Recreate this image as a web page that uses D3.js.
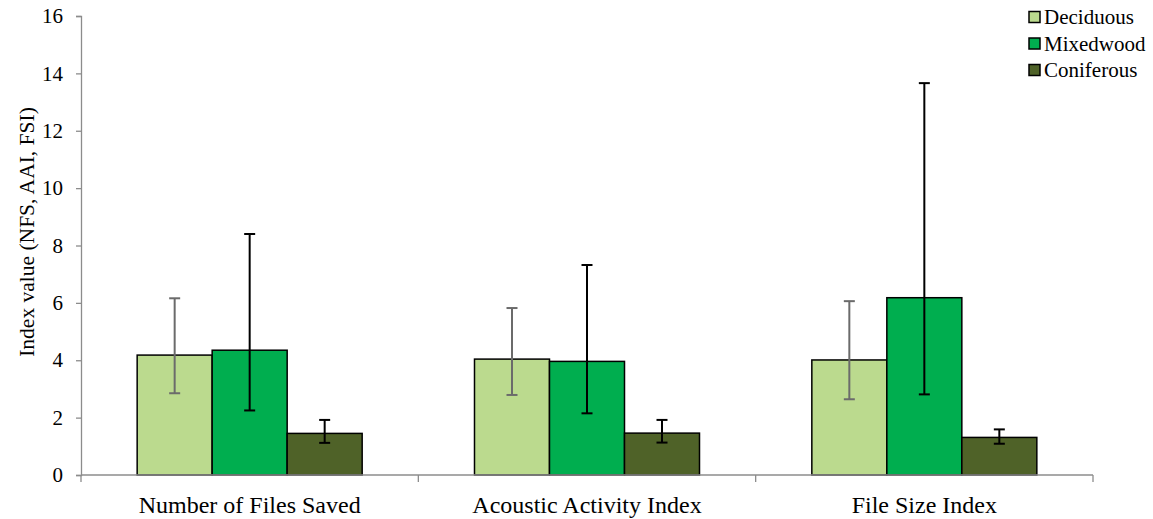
<!DOCTYPE html>
<html>
<head>
<meta charset="utf-8">
<script src="https://cdn.jsdelivr.net/npm/d3@7"></script>
<style>
  body { margin: 0; background: #fff; }
</style>
</head>
<body>
<script>
(function(){

  var categories = ['Number of Files Saved', 'Acoustic Activity Index', 'File Size Index']
  var forestTypes = ['Deciduous', 'Mixedwood', 'Coniferous']
  var yTicks = [0, 2, 4, 6, 8, 10, 12, 14, 16]

  // mean, upper and lower error bar ends, per forest type (order = categories)
  var deciduous = [4.18, 4.04, 4.01]
  var deciduousHi = [6.16, 5.82, 6.06]
  var deciduousLo = [2.85, 2.79, 2.64]
  var mixedwood = [4.35, 3.96, 6.18]
  var mixedwoodHi = [8.40, 7.32, 13.66]
  var mixedwoodLo = [2.25, 2.15, 2.81]
  var coniferous = [1.45, 1.46, 1.31]
  var coniferousHi = [1.92, 1.92, 1.59]
  var coniferousLo = [1.12, 1.13, 1.09]

  var fills = { Deciduous: '#bbda8e', Mixedwood: '#00ae4f', Coniferous: '#4f6228' }
  var errColor = { Deciduous: '#6b6b6b', Mixedwood: '#000', Coniferous: '#000' }
  var serif = 'Liberation Serif'

  var series = {
    Deciduous: [deciduous, deciduousHi, deciduousLo],
    Mixedwood: [mixedwood, mixedwoodHi, mixedwoodLo],
    Coniferous: [coniferous, coniferousHi, coniferousLo]
  }

  var rows = []
  categories.forEach(function(c, i){
    forestTypes.forEach(function(t){
      rows.push({ cat: c, type: t, v: series[t][0][i], hi: series[t][1][i], lo: series[t][2][i] })
    })
  })

  var margin = { top: 16, right: 60, bottom: 44, left: 81 }
  var width = 1153 - margin.left - margin.right,
      height = 519 - margin.top - margin.bottom;

  var svg = d3.select('body').append('svg')
      .attr('width', 1153)
      .attr('height', 519)
      .attr('font-family', serif)

  var g = svg.append('g')
      .attr('transform', 'translate(' + margin.left + ',' + margin.top + ')')

  var x0 = d3.scaleBand().domain(categories).range([0, width]).paddingInner(0.333).paddingOuter(0.1665)
  var x1 = d3.scaleBand().domain(forestTypes).range([0, x0.bandwidth()])
  var y = d3.scaleLinear().domain([0, 16]).range([height, 0])

  // y axis
  var yAxis = g.append('g')
      .call(d3.axisLeft(y).tickValues(yTicks).tickSize(5).tickPadding(13))
      .attr('font-family', serif)
      .attr('font-size', 21)
  yAxis.select('.domain').attr('stroke', '#8c8c8c').attr('stroke-width', 1.3)
  yAxis.selectAll('.tick line').attr('stroke', '#8c8c8c').attr('stroke-width', 1.3)
  yAxis.selectAll('.tick text').attr('fill', '#000').attr('font-family', serif)

  // bars
  g.selectAll('.bar').data(rows).enter().append('rect')
      .attr('class', 'bar')
      .attr('x', function(d){ return x0(d.cat) + x1(d.type) })
      .attr('y', function(d){ return y(d.v) })
      .attr('width', x1.bandwidth())
      .attr('height', function(d){ return height - y(d.v) })
      .attr('fill', function(d){ return fills[d.type] })
      .attr('stroke', '#000')
      .attr('stroke-width', 1.5)

  // x axis (category separators)
  var sep = [0].concat(categories.map(function(c){ return x0(c) + x0.bandwidth() + x0.step() * x0.paddingInner() / 2 }))
  g.append('line')
      .attr('x1', 0).attr('x2', width)
      .attr('y1', height).attr('y2', height)
      .attr('stroke', '#8c8c8c').attr('stroke-width', 1.3)
  g.selectAll('.sep').data(sep).enter().append('line')
      .attr('x1', function(d){ return d }).attr('x2', function(d){ return d })
      .attr('y1', height).attr('y2', height + 7)
      .attr('stroke', '#8c8c8c').attr('stroke-width', 1.3)

  g.selectAll('.cat-label').data(categories).enter().append('text')
      .attr('x', function(d){ return x0(d) + x0.bandwidth() / 2 })
      .attr('y', height + 38)
      .attr('text-anchor', 'middle')
      .attr('font-family', serif)
      .attr('font-size', 24)
      .text(function(d){ return d })

  // error bars
  var cap = 5.5
  var err = g.selectAll('.err').data(rows).enter().append('g')
      .attr('stroke', function(d){ return errColor[d.type] })
      .attr('stroke-width', 2)
  err.append('line')
      .attr('x1', function(d){ return x0(d.cat) + x1(d.type) + x1.bandwidth() / 2 })
      .attr('x2', function(d){ return x0(d.cat) + x1(d.type) + x1.bandwidth() / 2 })
      .attr('y1', function(d){ return y(d.hi) })
      .attr('y2', function(d){ return y(d.lo) })
  err.selectAll('.cap').data(function(d){ return [d.hi, d.lo].map(function(v){ return { d: d, v: v } }) })
    .enter().append('line')
      .attr('x1', function(e){ return x0(e.d.cat) + x1(e.d.type) + x1.bandwidth() / 2 - cap })
      .attr('x2', function(e){ return x0(e.d.cat) + x1(e.d.type) + x1.bandwidth() / 2 + cap })
      .attr('y1', function(e){ return y(e.v) })
      .attr('y2', function(e){ return y(e.v) })

  // y axis title
  svg.append('text')
      .attr('transform', 'translate(34,232) rotate(-90)')
      .attr('text-anchor', 'middle')
      .attr('font-family', serif)
      .attr('font-size', 21.5)
      .text('Index value (NFS, AAI, FSI)')

  // legend
  var legend = svg.append('g').attr('transform', 'translate(1029,0)')
  var li = legend.selectAll('.li').data(forestTypes).enter().append('g')
      .attr('transform', function(d, i){ return 'translate(0,' + (17 + i * 26.5) + ')' })
  li.append('rect')
      .attr('x', 0).attr('y', -5.5)
      .attr('width', 11).attr('height', 11)
      .attr('fill', function(d){ return fills[d] })
      .attr('stroke', '#000').attr('stroke-width', 1.5)
  li.append('text')
      .attr('x', 15).attr('y', 7)
      .attr('font-family', serif)
      .attr('font-size', 21)
      .text(function(d){ return d })

})()
</script>
</body>
</html>
